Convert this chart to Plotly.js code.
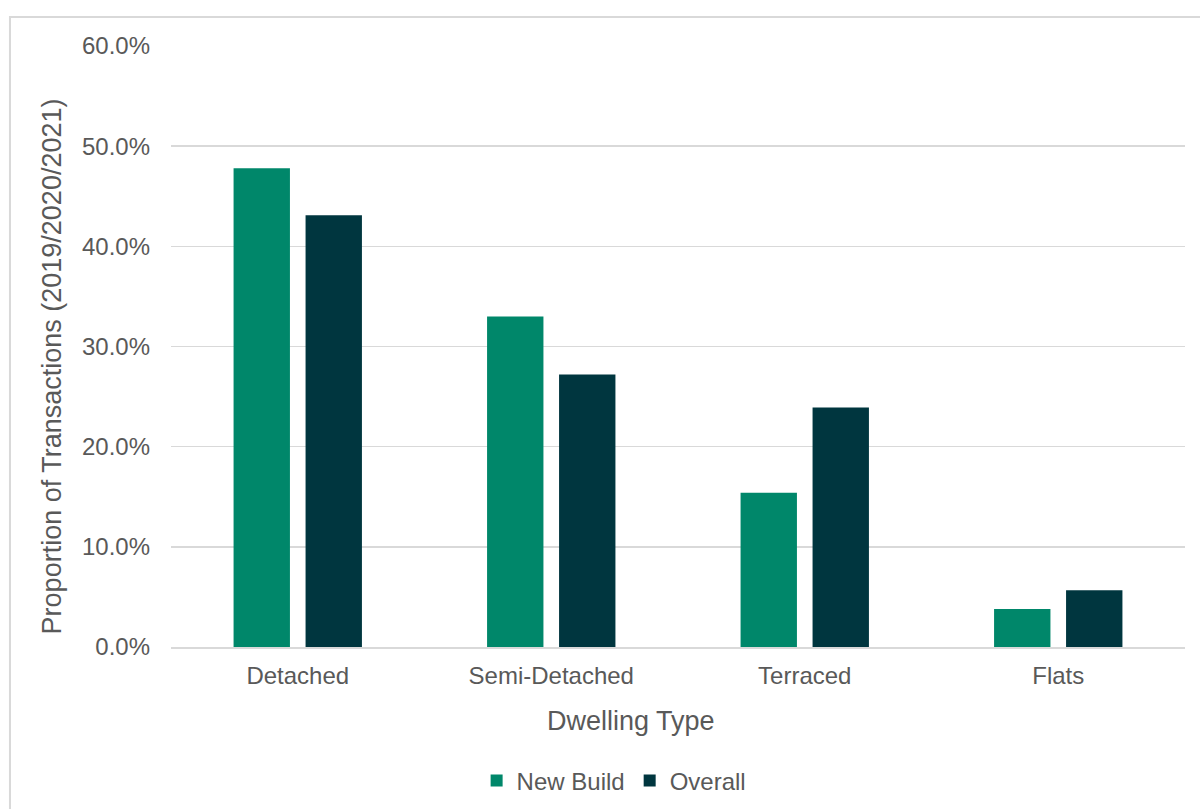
<!DOCTYPE html>
<html>
<head>
<meta charset="utf-8">
<script src="https://cdn.plot.ly/plotly-3.0.1.min.js"></script>
<style>
html, body { margin: 0; padding: 0; background: #ffffff; }
#chart { width: 1200px; height: 809px; }
</style>
</head>
<body>
<div id="chart"></div>
<script>
const categories = ["Detached", "Semi-Detached", "Terraced", "Flats"];
const newBuild = [0.478, 0.330, 0.154, 0.038];
const overall = [0.431, 0.272, 0.239, 0.0566];
const seriesNames = ["New Build", "Overall"];
const yTickVals = [0, 0.1, 0.2, 0.3, 0.4, 0.5, 0.6];
const xTitle = "Dwelling Type";
const yTitle = "Proportion of Transactions (2019/2020/2021)";

const font = "Liberation Sans, Arial, sans-serif";
const grey = "#595959";

const traces = [
  {
    type: "bar", name: seriesNames[0], x: categories, y: newBuild,
    marker: { color: "#00876A" }, hoverinfo: "skip"
  },
  {
    type: "bar", name: seriesNames[1], x: categories, y: overall,
    marker: { color: "#00363F" }, hoverinfo: "skip"
  }
];

const layout = {
  width: 1200, height: 809,
  margin: { l: 171, r: 15, t: 46, b: 162, autoexpand: false },
  paper_bgcolor: "#ffffff", plot_bgcolor: "#ffffff",
  font: { family: font, color: grey, size: 24 },
  barmode: "group",
  bargap: 0.432,
  bargroupgap: 0.217,
  showlegend: true,
  legend: {
    orientation: "h", x: 0.437, xanchor: "center", y: -0.223, yanchor: "middle",
    font: { family: font, size: 24, color: grey },
    itemwidth: 30, traceorder: "normal", bgcolor: "rgba(0,0,0,0)"
  },
  xaxis: {
    type: "category",
    showgrid: false, zeroline: false,
    showline: true, linecolor: "#d9d9d9", linewidth: 2,
    ticks: "", ticklabelstandoff: 6,
    tickfont: { family: font, size: 24, color: grey },
    automargin: false, fixedrange: true
  },
  yaxis: {
    range: [0, 0.6],
    tickvals: yTickVals,
    tickformat: ".1%",
    showgrid: true, gridcolor: "#d9d9d9", gridwidth: 1.5,
    zeroline: false, showline: false,
    ticks: "", ticklabelstandoff: 20,
    tickfont: { family: font, size: 24, color: grey },
    automargin: false, fixedrange: true
  },
  annotations: [
    {
      text: xTitle, xref: "paper", yref: "paper",
      x: 0.4537, y: -0.123, xanchor: "center", yanchor: "middle",
      showarrow: false, font: { family: font, size: 27, color: grey }
    },
    {
      text: yTitle, xref: "paper", yref: "paper",
      x: -0.117, y: 0.4675, xanchor: "center", yanchor: "middle", textangle: -90,
      showarrow: false, font: { family: font, size: 27, color: grey }
    }
  ],
  shapes: [
    {
      type: "rect", xref: "paper", yref: "paper",
      x0: -0.1588, x1: 1.03, y0: -0.29, y1: 1.0483,
      line: { color: "#d9d9d9", width: 2 }, fillcolor: "rgba(0,0,0,0)", layer: "below"
    }
  ]
};

Plotly.newPlot("chart", traces, layout, { displayModeBar: false, staticPlot: true });
</script>
</body>
</html>
